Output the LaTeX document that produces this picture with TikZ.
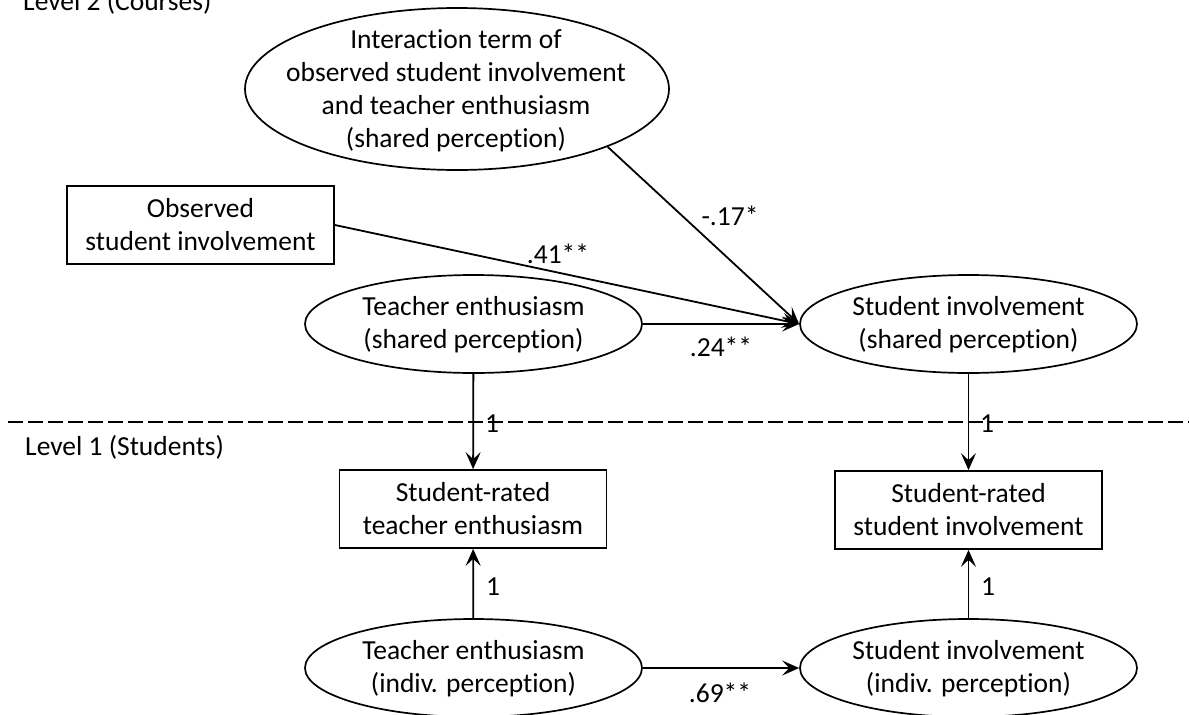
\documentclass[tikz,border=0pt]{standalone}
\usepackage{fontspec}
\setmainfont{Carlito}[Ligatures={NoCommon}]
\usetikzlibrary{arrows.meta,shapes.geometric}
\begin{document}
\begin{tikzpicture}[x=1pt,y=-1pt,
  every node/.style={font=\fontsize{27.5}{33}\selectfont},
  ell/.style={draw, ellipse, line width=1.7pt, inner sep=0pt, minimum width=337pt, minimum height=98pt},
  box/.style={draw, rectangle, line width=1.7pt, minimum width=267pt, minimum height=78pt, align=center, inner sep=0pt},
  txt/.style={align=center, inner sep=0pt},
  conn/.style={line width=1.8pt, -{Stealth[length=17pt,width=15pt,inset=7pt]}},
  lbl/.style={inner sep=0pt},
  sep/.style={line width=1.7pt, dash pattern=on 15pt off 5pt},
]
\useasboundingbox (0,0) rectangle (1189,715);
\clip (0,0) rectangle (1189,715);

% Level labels
\node[anchor=base west, inner sep=0pt] (lv2) at (23,10) {Level 2 (Courses)};
\node[anchor=base west, inner sep=0pt] (lv1) at (25,455) {Level 1 (Students)};

% separator
\coordinate (sepL) at (8,422);
\coordinate (sepR) at (1189,422);
\draw[sep] (sepL) -- (sepR);

% Level 2 nodes
\node[ell, minimum width=424pt, minimum height=162pt] (inter) at (457,89) {};
\node[txt] (intert) at (456,91) {Interaction term of\\observed student involvement\\and teacher enthusiasm\\(shared perception)};

\node[box] (obs) at (200.5,225) {Observed\\student involvement};

\node[ell] (tes) at (473.5,324) {};
\node[txt] (test) at (473.5,325) {Teacher enthusiasm\\(shared perception)};

\node[ell] (sis) at (968.5,324) {};
\node[txt] (sist) at (968.5,325) {Student involvement\\(shared perception)};

% Level 1 nodes
\node[box] (srt) at (473,509) {Student-rated\\teacher enthusiasm};
\node[box] (srs) at (968.5,510) {Student-rated\\student involvement};

\node[ell] (tei) at (473.5,668) {};
\node[txt] (teit) at (473.5,669) {Teacher enthusiasm\\(indiv. perception)};

\node[ell] (sii) at (968.5,668) {};
\node[txt] (siit) at (968.5,669) {Student involvement\\(indiv. perception)};

% connectors
\draw[conn] (inter.-21) -- (sis.west);
\draw[conn] (obs.east) -- (sis.west);
\draw[conn] (tes) -- (sis);
\draw[conn] (tes) -- (srt);
\draw[conn] (sis) -- (srs);
\draw[conn] (tei) -- (srt);
\draw[conn] (sii) -- (srs);
\draw[conn] (tei) -- (sii);

% labels
\node[lbl] (l17) at (730,216) {-.17*};
\node[lbl] (l41) at (558,254) {.41**};
\node[lbl] (l24) at (721,347) {.24**};
\node[lbl] (l1a) at (492,424) {1};
\node[lbl] (l1b) at (987,424) {1};
\node[lbl] (l1c) at (493,587) {1};
\node[lbl] (l1d) at (988,587) {1};
\node[lbl] (l69) at (720,693) {.69**};
\end{tikzpicture}
\end{document}
